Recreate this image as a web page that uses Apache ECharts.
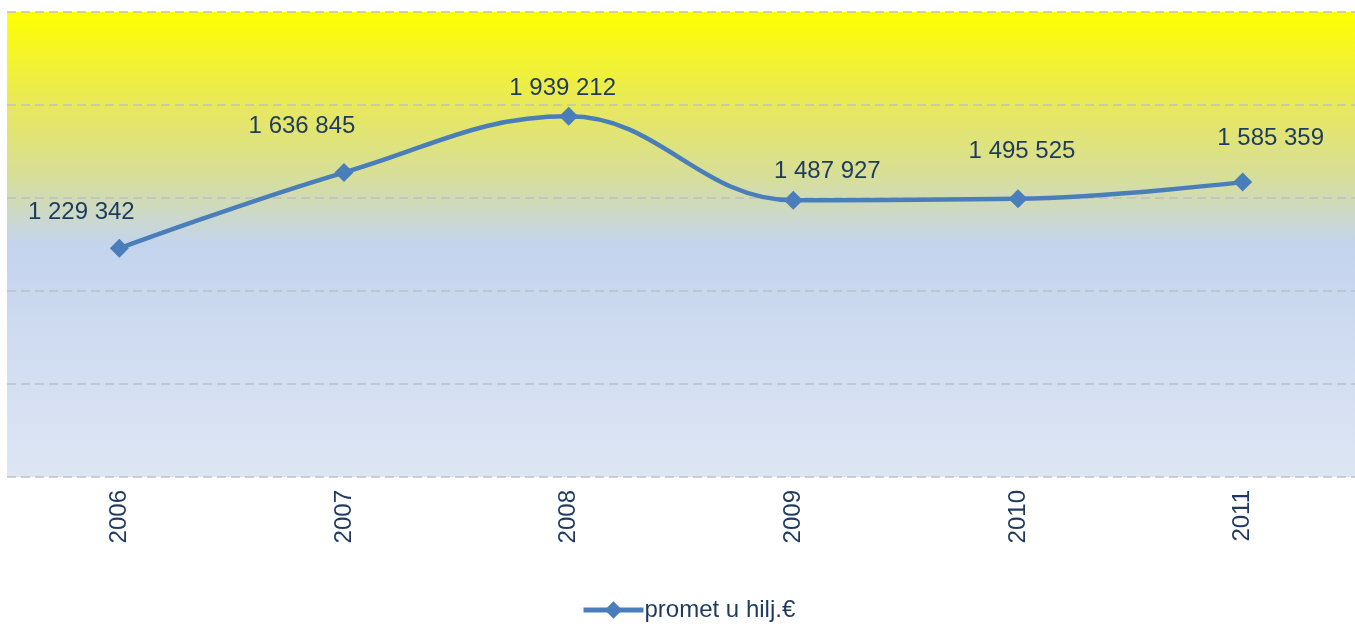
<!DOCTYPE html>
<html>
<head>
<meta charset="utf-8">
<script src="https://cdn.jsdelivr.net/npm/echarts@6/dist/echarts.min.js"></script>
<style>html,body{margin:0;padding:0;background:#fff}#c{width:1355px;height:627px}</style>
</head>
<body>
<div id="c"></div>
<script>
const categories = ['2006', '2007', '2008', '2009', '2010', '2011'];
const values = [1229342, 1636845, 1939212, 1487927, 1495525, 1585359];
const seriesName = 'promet u hilj.€';
const yTicks = [0, 500000, 1000000, 1500000, 2000000, 2500000];

// label placement (pixel offsets from each point)
const labelOffsets = [[-38, -36], [-42, -46], [-6, -28], [34, -29], [4, -47], [28, -44]];

function fmt(v) { return String(v).replace(/\B(?=(\d{3})+(?!\d))/g, ' '); }

const chart = echarts.init(document.getElementById('c'));
const txt = '#1F3A5F';
const font = 'Liberation Sans, Arial';
chart.setOption({
  animation: false,
  grid: {
    left: 7, right: 0, top: 12, bottom: 150, containLabel: false,
    show: true, borderWidth: 0,
    backgroundColor: new echarts.graphic.LinearGradient(0, 0, 0, 1, [
      { offset: 0, color: '#FFFF00' },
      { offset: 0.2, color: '#E8E85C' },
      { offset: 0.36, color: '#D6DE9C' },
      { offset: 0.5, color: '#C4D4EE' },
      { offset: 1, color: '#DEE6F4' }
    ])
  },
  legend: {
    bottom: 0, left: 576,
    itemWidth: 60, itemHeight: 22, itemGap: 0,
    lineStyle: { width: 5 },
    textStyle: { fontFamily: font, fontSize: 24, color: txt, padding: [0, 0, 0, -4] },
    data: [seriesName]
  },
  xAxis: {
    type: 'category', data: categories, boundaryGap: true,
    axisLine: { show: false }, axisTick: { show: false },
    axisLabel: { rotate: 90, margin: 13, fontFamily: font, fontSize: 24, color: txt }
  },
  yAxis: {
    type: 'value', min: yTicks[0], max: yTicks[yTicks.length - 1], interval: yTicks[1] - yTicks[0],
    axisLabel: { show: false }, axisLine: { show: false }, axisTick: { show: false },
    splitLine: { show: true, lineStyle: { color: '#C0C0C0', type: [9, 5], width: 1.5 } }
  },
  series: [{
    name: seriesName, type: 'line', smooth: 0.4,
    data: values.map((v, i) => ({
      value: v,
      label: { offset: labelOffsets[i] }
    })),
    symbol: 'diamond', symbolSize: 19,
    lineStyle: { color: '#4A7EBB', width: 4.5 },
    itemStyle: { color: '#4A7EBB' },
    label: {
      show: true, position: 'inside',
      formatter: p => fmt(p.value),
      fontFamily: font, fontSize: 24, color: txt
    }
  }]
});
</script>
</body>
</html>
